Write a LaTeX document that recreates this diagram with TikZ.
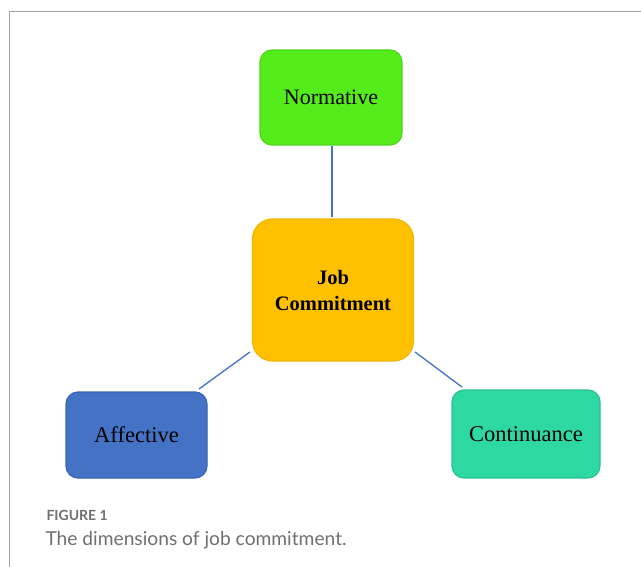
\documentclass[tikz,border=0pt]{standalone}
\usepackage{fontspec}
\setmainfont{Liberation Serif}
\newfontfamily\capfont{Lato}
\definecolor{ngreen}{HTML}{55EC1B}
\definecolor{ngreenb}{HTML}{4DD418}
\definecolor{jgold}{HTML}{FFC000}
\definecolor{jgoldb}{HTML}{F2B500}
\definecolor{ablue}{HTML}{4472C4}
\definecolor{abluel}{HTML}{3A64B4}
\definecolor{cteal}{HTML}{2ED8A2}
\definecolor{ctealb}{HTML}{29C492}
\definecolor{linkblue}{HTML}{4472C4}
\definecolor{framegray}{HTML}{A0A0A0}
\definecolor{capgray}{HTML}{707070}
\tikzset{
  boxnode/.style={rounded corners=12pt, line width=1.2pt, inner sep=0pt, align=center, text=black},
  link/.style={draw=linkblue, line width=1.3pt},
}
\begin{document}
\begin{tikzpicture}[x=1pt,y=-1pt]
\useasboundingbox (0,0) rectangle (641,567);
\fill[white] (0,0) rectangle (641,567);
\draw[framegray, line width=1pt] (9.5,567) -- (9.5,11.5) -- (641,11.5);
\node[boxnode, fill=ngreen, draw=ngreenb, minimum width=142pt, minimum height=95pt, font=\fontsize{22}{24}\selectfont] (norm) at (331,97.5) {Normative};
\node[boxnode, fill=jgold, draw=jgoldb, minimum width=161pt, minimum height=142pt, rounded corners=20pt, font=\fontsize{20.5}{26}\selectfont\bfseries] (job) at (333,290) {Job\\Commitment};
\node[boxnode, fill=ablue, draw=abluel, minimum width=141pt, minimum height=86pt, font=\fontsize{22.5}{24}\selectfont] (aff) at (136.5,435) {Affective};
\node[boxnode, fill=cteal, draw=ctealb, minimum width=148pt, minimum height=88pt, font=\fontsize{22.5}{24}\selectfont] (cont) at (526,434) {Continuance};
\coordinate (n1) at (332,146);
\coordinate (j1) at (332,217);
\draw[link] (n1) -- (j1);
\coordinate (ja) at (250,352);
\coordinate (aa) at (199,389);
\coordinate (jc) at (415,352);
\coordinate (cc) at (462,387);
\draw[link] (ja) -- (aa);
\draw[link] (jc) -- (cc);
\node[anchor=west, text=capgray, font=\capfont\bfseries\fontsize{14}{16}\selectfont] (fig) at (43,515) {FIGURE 1};
\node[anchor=west, text=capgray, font=\capfont\fontsize{19.2}{21}\selectfont] (capt) at (42,540) {The dimensions of job commitment.};
\end{tikzpicture}
\end{document}
